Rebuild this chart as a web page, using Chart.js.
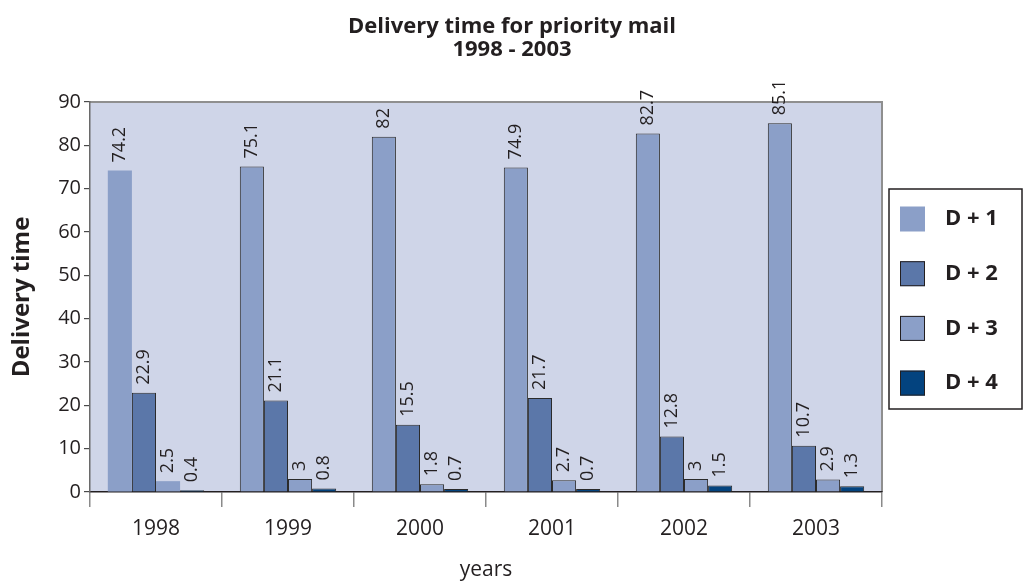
<!DOCTYPE html>
<html>
<head>
<meta charset="utf-8">
<script src="https://cdn.jsdelivr.net/npm/chart.js@4"></script>
<style>
  html, body { margin: 0; padding: 0; background: #fff; }
  #wrap { width: 1024px; height: 584px; }
</style>
</head>
<body>
<div id="wrap"><canvas id="chart"></canvas></div>
<script>
const years = ["1998", "1999", "2000", "2001", "2002", "2003"];
const seriesNames = ["D + 1", "D + 2", "D + 3", "D + 4"];
const d1 = [74.2, 75.1, 82, 74.9, 82.7, 85.1];
const d2 = [22.9, 21.1, 15.5, 21.7, 12.8, 10.7];
const d3 = [2.5, 3, 1.8, 2.7, 3, 2.9];
const d4 = [0.4, 0.8, 0.7, 0.7, 1.5, 1.3];
const yTicks = [0, 10, 20, 30, 40, 50, 60, 70, 80, 90];

const FONT = "'Open Sans', 'Noto Sans', sans-serif";
const fills = ["#8b9fc8", "#5b77a9", "#8b9fc8", "#03437f"];

// plot background + top/right frame
const plotBg = {
  id: "plotBg",
  beforeDraw(chart){
    const {ctx, chartArea: a} = chart;
    ctx.save();
    ctx.fillStyle = "#cfd5e8";
    ctx.fillRect(a.left, a.top, a.right - a.left, a.bottom - a.top);
    ctx.strokeStyle = "#8f8f8f";
    ctx.lineWidth = 2;
    ctx.beginPath();
    ctx.moveTo(a.left, a.top);
    ctx.lineTo(a.right, a.top);
    ctx.lineTo(a.right, a.bottom);
    ctx.stroke();
    ctx.restore();
  }
};

// rotated value labels above each bar
const barLabels = {
  id: "barLabels",
  afterDatasetsDraw(chart){
    const ctx = chart.ctx;
    ctx.save();
    ctx.font = "18px " + FONT;
    ctx.fillStyle = "#231f20";
    ctx.textAlign = "left";
    ctx.textBaseline = "middle";
    chart.data.datasets.forEach((ds, i)=>{
      chart.getDatasetMeta(i).data.forEach((bar, j)=>{
        ctx.save();
        ctx.translate(bar.x, bar.y - 8);
        ctx.rotate(-Math.PI / 2);
        ctx.fillText(String(ds.data[j]), 0, 0);
        ctx.restore();
      });
    });
    ctx.restore();
  }
};

// boxed legend on the right
const boxLegend = {
  id: "boxLegend",
  afterDraw(chart){
    const ctx = chart.ctx;
    const left = 889, top = 189, w = 133, h = 220;
    ctx.save();
    ctx.strokeStyle = "#231f20";
    ctx.lineWidth = 1.5;
    ctx.strokeRect(left, top, w, h);
    ctx.font = "bold 22px " + FONT;
    ctx.textBaseline = "middle";
    chart.data.datasets.forEach((ds, i)=>{
      const cy = top + 30 + i * 54.7;
      ctx.fillStyle = ds.backgroundColor;
      ctx.fillRect(900, cy - 12.5, 25, 25);
      if(i > 0){
        ctx.strokeStyle = "#231f20";
        ctx.lineWidth = 1;
        ctx.strokeRect(900.5, cy - 12, 24, 24);
      }
      ctx.fillStyle = "#231f20";
      ctx.fillText(ds.label, 945, cy);
    });
    ctx.restore();
  }
};

const seriesData = [d1, d2, d3, d4];

new Chart(document.getElementById("chart"), {
  type: "bar",
  data: {
    labels: years,
    datasets: seriesData.map((vals, i)=>({
      label: seriesNames[i],
      data: vals,
      backgroundColor: fills[i],
      borderColor: "#2b2b2b",
      borderWidth: (i === 0 || i === 2) ? [0, 1, 1, 1, 1, 1] : 1,
      categoryPercentage: 0.73,
      barPercentage: 1
    }))
  },
  options: {
    responsive: true,
    maintainAspectRatio: false,
    animation: false,
    layout: { padding: 0 },
    plugins: {
      legend: { display: false },
      tooltip: { enabled: false },
      title: {
        display: true,
        text: ["Delivery time for priority mail", "1998 - 2003"],
        color: "#231f20",
        font: { family: FONT, size: 22, weight: "bold", lineHeight: 1.045 },
        padding: { top: 15.5, bottom: 40.5 }
      }
    },
    scales: {
      x: {
        afterFit(scale){ scale.height = 92; },
        grid: { offset: true, drawOnChartArea: false, tickLength: 15, color: "#8a8a8a", lineWidth: 1.5 },
        border: { color: "#231f20", width: 1.5 },
        ticks: { color: "#231f20", font: { family: FONT, size: 21 }, padding: 9 },
        title: {
          display: true, text: "years", color: "#231f20",
          font: { family: FONT, size: 21, lineHeight: 1 },
          padding: { top: 0, bottom: 3.5 }
        }
      },
      y: {
        min: 0,
        max: 90,
        afterFit(scale){ scale.width = 90; },
        afterBuildTicks(scale){ scale.ticks = yTicks.map(v=>({ value: v })); },
        grid: { drawOnChartArea: false, tickLength: 6, color: "#4a4a4a", lineWidth: 1.2 },
        border: { color: "#6a6a6a", width: 1.5 },
        ticks: { color: "#231f20", font: { family: FONT, size: 20 }, padding: 3 },
        title: {
          display: true, text: "Delivery time", color: "#231f20",
          font: { family: FONT, size: 24, weight: "bold", lineHeight: 1.2 },
          padding: { top: 7.6, bottom: 0 }
        }
      },
      // empty right-hand axis that only reserves room for the legend box
      side: {
        position: "right",
        afterFit(scale){ scale.width = 142; },
        grid: { display: false },
        border: { display: false },
        ticks: { display: false }
      }
    }
  },
  plugins: [plotBg, barLabels, boxLegend]
});
</script>
</body>
</html>
